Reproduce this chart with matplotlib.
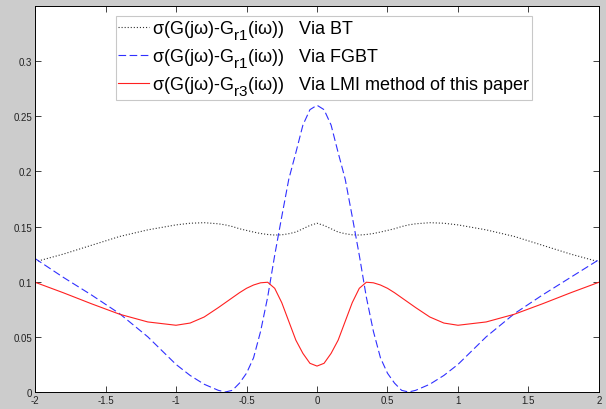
import matplotlib
matplotlib.use("Agg")
import matplotlib.pyplot as plt
import matplotlib._mathtext as mathtext_internal

plt.rcParams['font.family'] = ['Liberation Sans', 'DejaVu Sans']
plt.rcParams['mathtext.fontset'] = 'custom'
plt.rcParams['mathtext.rm'] = 'Liberation Sans'
plt.rcParams['lines.scale_dashes'] = False
# the original legend uses large, low subscripts
mathtext_internal.SHRINK_FACTOR = 0.85
mathtext_internal.FontConstantsBase.sub1 = 0.65

# frequency grid (omega)
w = [-2.0, -1.8, -1.6, -1.4, -1.2, -1.0, -0.9, -0.8, -0.7, -0.65, -0.6, -0.55,
     -0.5, -0.45, -0.4, -0.35, -0.3, -0.25, -0.2, -0.15, -0.1, -0.05, 0.0,
     0.05, 0.1, 0.15, 0.2, 0.25, 0.3, 0.35, 0.4, 0.45, 0.5, 0.55, 0.6, 0.65,
     0.7, 0.8, 0.9, 1.0, 1.2, 1.4, 1.6, 1.8, 2.0]

# error via BT
err_bt = [0.118, 0.125, 0.133, 0.141, 0.147, 0.1515, 0.153, 0.1535, 0.1525, 0.1515,
          0.150, 0.148, 0.1465, 0.145, 0.1437, 0.1428, 0.1423, 0.1425, 0.1435, 0.145,
          0.148, 0.151, 0.153,
          0.151, 0.148, 0.145, 0.1435, 0.1425, 0.1423, 0.1428, 0.1437, 0.145, 0.1465,
          0.148, 0.150, 0.1515, 0.1525, 0.1535, 0.153, 0.1515, 0.147, 0.141, 0.133,
          0.125, 0.118]

# error via FGBT
err_fgbt = [0.121, 0.104, 0.088, 0.071, 0.050, 0.025, 0.015, 0.007, 0.0015, 0.0,
            0.0015, 0.008, 0.017, 0.031, 0.055, 0.086, 0.124, 0.159, 0.193, 0.217,
            0.242, 0.256, 0.260,
            0.256, 0.242, 0.217, 0.193, 0.159, 0.124, 0.086, 0.055, 0.031, 0.017,
            0.008, 0.0015, 0.0, 0.0015, 0.007, 0.015, 0.025, 0.050, 0.071, 0.088,
            0.104, 0.120]

# error via LMI method
err_lmi = [0.0995, 0.090, 0.080, 0.0705, 0.0635, 0.0605, 0.0625, 0.068, 0.0765, 0.081,
           0.0855, 0.090, 0.094, 0.097, 0.099, 0.0995, 0.094, 0.081, 0.064, 0.047,
           0.035, 0.026, 0.0235,
           0.026, 0.035, 0.047, 0.064, 0.081, 0.094, 0.0995, 0.099, 0.097, 0.094,
           0.090, 0.0855, 0.081, 0.0765, 0.068, 0.0625, 0.0605, 0.0635, 0.0705, 0.080,
           0.090, 0.0995]

labels = [r'σ(G(jω)-G$_{\mathrm{r1}}$(iω))   Via BT',
          r'σ(G(jω)-G$_{\mathrm{r1}}$(iω))   Via FGBT',
          r'σ(G(jω)-G$_{\mathrm{r3}}$(iω))   Via LMI method of this paper']

fig = plt.figure(figsize=(6.06, 4.10), dpi=100, facecolor='#cccccc')
ax = fig.add_axes([0.0578, 0.0415, 0.9306, 0.9415])

ax.plot(w, err_bt, color='#333333', lw=0.8, dashes=(0.8, 1.4), label=labels[0])
ax.plot(w, err_fgbt, color='#3030ff', lw=0.8, dashes=(5.5, 2.5), label=labels[1])
ax.plot(w, err_lmi, color='#ff2020', lw=0.8, label=labels[2])

ax.set_xlim(-2, 2)
ax.set_ylim(0, 0.35)
ax.set_xticks([-2, -1.5, -1, -0.5, 0, 0.5, 1, 1.5, 2])
ax.set_xticklabels(['-2', '-1.5', '-1', '-0.5', '0', '0.5', '1', '1.5', '2'])
ax.set_yticks([0, 0.05, 0.1, 0.15, 0.2, 0.25, 0.3])
ax.set_yticklabels(['0', '0.05', '0.1', '0.15', '0.2', '0.25', '0.3'])
ax.tick_params(direction='in', top=True, right=True, length=4, width=0.6,
               labelsize=7, colors='#222222', pad=2)
for s in ax.spines.values():
    s.set_linewidth(0.7)

leg = ax.legend(loc='upper center', bbox_to_anchor=(0.513, 0.973), fontsize=13,
                frameon=True, fancybox=False, edgecolor='#bbbbbb',
                handlelength=1.7, handletextpad=0.15, labelspacing=0.25,
                borderpad=0.12, borderaxespad=0)
leg.get_frame().set_linewidth(0.8)

fig.savefig('out.png', dpi=100, facecolor=fig.get_facecolor())
